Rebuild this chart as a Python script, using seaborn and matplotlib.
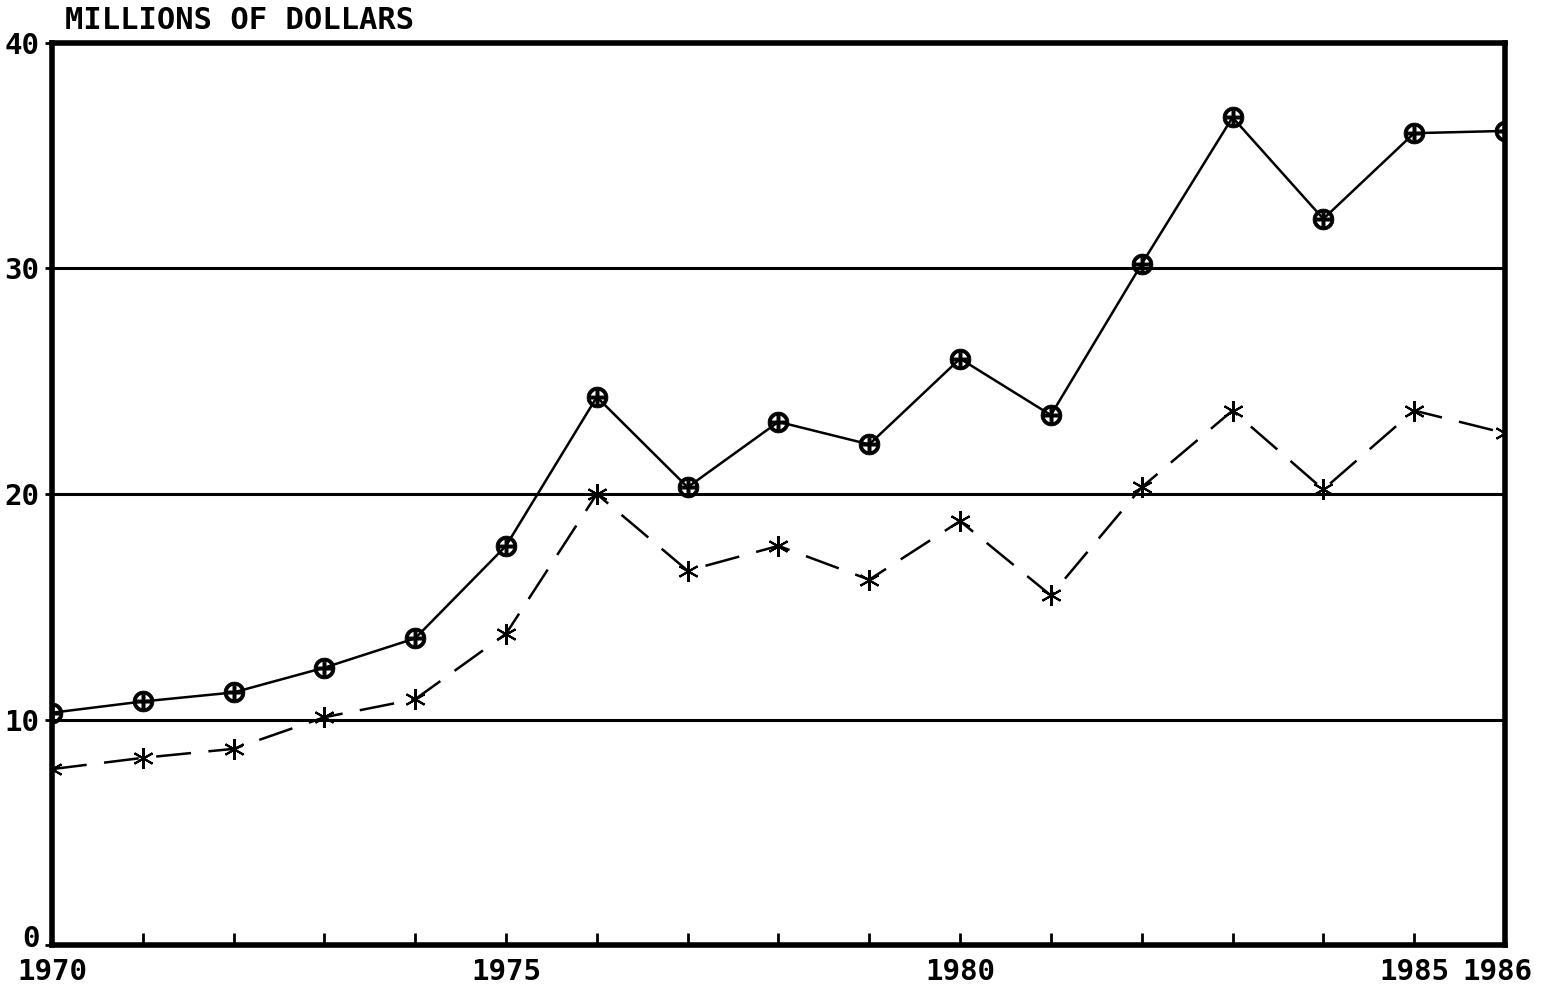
import pandas as pd
import matplotlib
matplotlib.use("Agg")
import matplotlib.pyplot as plt
import matplotlib.transforms as mtransforms
import seaborn as sns

# Datos (millones de dolares)
anios = list(range(1970, 1987))
serie_total = [10.3, 10.8, 11.2, 12.3, 13.6, 17.7, 24.3, 20.3, 23.2, 22.2,
               26.0, 23.5, 30.2, 36.7, 32.2, 36.0, 36.1]
serie_parcial = [7.8, 8.3, 8.7, 10.1, 10.9, 13.8, 20.0, 16.6, 17.7, 16.2,
                 18.8, 15.5, 20.3, 23.7, 20.2, 23.7, 22.7]
etiquetas_x = ["1970", "1975", "1980", "1985", "1986"]
ticks_y = [0, 10, 20, 30, 40]

df = pd.DataFrame({"anio": anios, "total": serie_total, "parcial": serie_parcial})

sns.set_style("white")
plt.rcParams["font.family"] = ["DejaVu Sans Mono", "DejaVu Sans"]
plt.rcParams["font.weight"] = "bold"
plt.rcParams["text.color"] = "black"
plt.rcParams["xtick.color"] = "black"
plt.rcParams["ytick.color"] = "black"

fig = plt.figure(figsize=(15.41, 9.88), dpi=100)
ax = fig.add_axes([0.0337, 0.0435, 0.9429, 0.913])

# lineas horizontales de referencia
for yv in ticks_y[1:-1]:
    ax.axhline(yv, color="black", lw=2.2, zorder=1)

sns.lineplot(data=df, x="anio", y="total", ax=ax, color="black", lw=1.8,
             marker=r"$\oplus$", markersize=15, markeredgewidth=0.6,
             markeredgecolor="black", zorder=3)
sns.lineplot(data=df, x="anio", y="parcial", ax=ax, color="black", lw=1.8,
             marker=(6, 2, 0), markersize=15, markeredgewidth=1.5,
             markeredgecolor="black", zorder=3)
ax.lines[-1].set_dashes([14, 7])

ax.set_xlim(1970, 1986)
ax.set_ylim(0, 40)
ax.set_xticks(anios, minor=True)
ax.set_xticks([int(e) for e in etiquetas_x])
ax.set_xticklabels(etiquetas_x)
ax.set_yticks(ticks_y)
ax.tick_params(axis="x", which="both", direction="in", length=9, width=2,
               labelsize=21, pad=9, bottom=True)
ax.tick_params(axis="y", direction="out", length=5, width=2, labelsize=21,
               pad=4, left=True)
ax.set_xlabel("")
ax.set_ylabel("")

# el "0" va un poco mas arriba y "1986" un poco a la izquierda, como en el original
ylabs = ax.get_yticklabels()
ylabs[0].set_transform(ylabs[0].get_transform() +
                       mtransforms.ScaledTranslation(0, 9 / 100, fig.dpi_scale_trans))
xlabs = ax.get_xticklabels()
xlabs[-1].set_transform(xlabs[-1].get_transform() +
                        mtransforms.ScaledTranslation(-8 / 100, 0, fig.dpi_scale_trans))

for s in ax.spines.values():
    s.set_visible(True)
    s.set_color("black")
    s.set_linewidth(4)

fig.text(0.042, 0.979, "MILLIONS OF DOLLARS", fontsize=22, fontweight="bold",
         ha="left", va="center")

fig.savefig("out.png", dpi=100, facecolor="white")
